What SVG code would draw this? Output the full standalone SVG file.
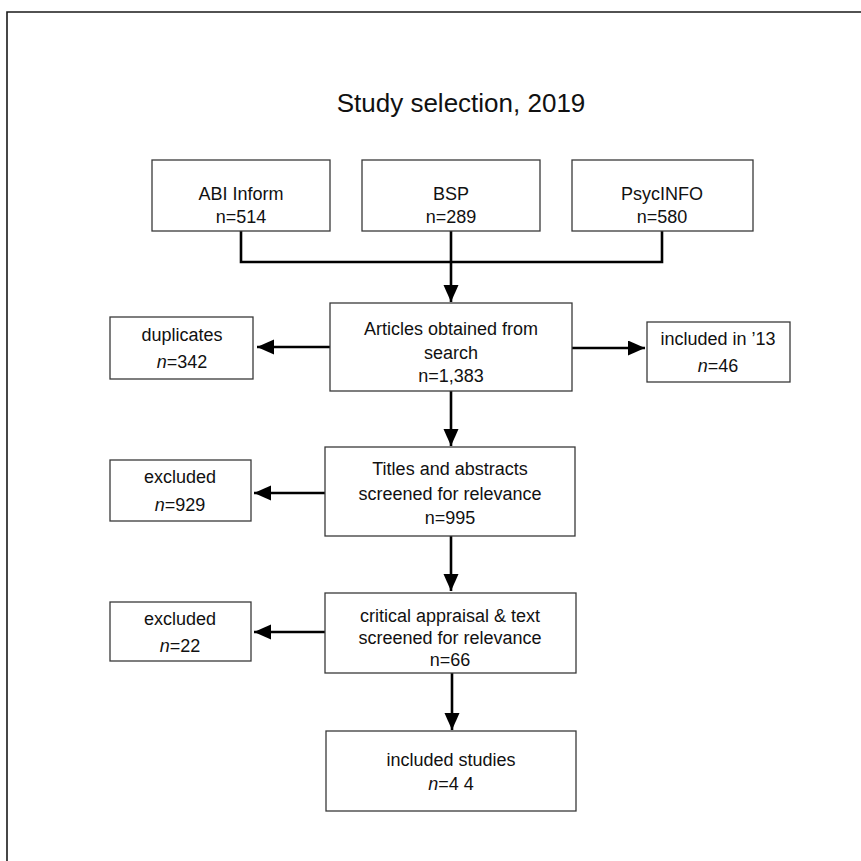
<svg xmlns="http://www.w3.org/2000/svg" width="861" height="861" viewBox="0 0 861 861">
<style>
.box{fill:#fff;stroke:#3a3a3a;stroke-width:1.3}
.t{font-family:"Liberation Sans",Arial,sans-serif;font-size:18px;fill:#111;text-anchor:middle}
.c{fill:none;stroke:#000;stroke-width:2.6}
.i{font-style:italic}
</style>
<defs>
<marker id="ah" markerUnits="userSpaceOnUse" markerWidth="18" markerHeight="16" refX="17" refY="7.5" orient="auto">
<path d="M0,0 L17,7.5 L0,15 z" fill="#000"/>
</marker>
</defs>
<rect width="861" height="861" fill="#fff"/>
<path d="M7,861 V12 H861" fill="none" stroke="#1a1a1a" stroke-width="1.6"/>
<text class="t" x="461" y="112" style="font-size:26px">Study selection, 2019</text>

<g id="connectors">
<path class="c" d="M241,231 V262 H662 V231" stroke-width="2"/>
<path class="c" d="M451,231 V302" marker-end="url(#ah)"/>
<path class="c" d="M330,347 H257" marker-end="url(#ah)"/>
<path class="c" d="M572,348 H645" marker-end="url(#ah)"/>
<path class="c" d="M451,391 V446" marker-end="url(#ah)"/>
<path class="c" d="M325,493 H254" marker-end="url(#ah)"/>
<path class="c" d="M451,536 V591" marker-end="url(#ah)"/>
<path class="c" d="M325,632 H254" marker-end="url(#ah)"/>
<path class="c" d="M452,673 V730" marker-end="url(#ah)"/>
</g>

<g id="abi">
<rect class="box" x="152" y="160" width="178" height="71"/>
<text class="t" x="241" y="200">ABI Inform</text>
<text class="t" x="241" y="223">n=514</text>
</g>
<g id="bsp">
<rect class="box" x="362" y="160" width="178" height="71"/>
<text class="t" x="451" y="200">BSP</text>
<text class="t" x="451" y="223">n=289</text>
</g>
<g id="psycinfo">
<rect class="box" x="572" y="160" width="181" height="71"/>
<text class="t" x="662" y="200">PsycINFO</text>
<text class="t" x="662" y="223">n=580</text>
</g>
<g id="articles">
<rect class="box" x="330" y="303" width="242" height="88"/>
<text class="t" x="451" y="335">Articles obtained from</text>
<text class="t" x="451" y="359">search</text>
<text class="t" x="451" y="382">n=1,383</text>
</g>
<g id="duplicates">
<rect class="box" x="110" y="317" width="143" height="62"/>
<text class="t" x="182" y="341">duplicates</text>
<text class="t" x="182" y="368"><tspan class="i">n</tspan>=342</text>
</g>
<g id="included13">
<rect class="box" x="647" y="322" width="143" height="60"/>
<text class="t" x="718" y="345">included in ’13</text>
<text class="t" x="718" y="372"><tspan class="i">n</tspan>=46</text>
</g>
<g id="titles">
<rect class="box" x="325" y="447" width="250" height="89"/>
<text class="t" x="450" y="475">Titles and abstracts</text>
<text class="t" x="450" y="500">screened for relevance</text>
<text class="t" x="450" y="524">n=995</text>
</g>
<g id="excluded929">
<rect class="box" x="110" y="460" width="141" height="61"/>
<text class="t" x="180" y="483">excluded</text>
<text class="t" x="180" y="511"><tspan class="i">n</tspan>=929</text>
</g>
<g id="critical">
<rect class="box" x="325" y="593" width="251" height="80"/>
<text class="t" x="450" y="622">critical appraisal &amp; text</text>
<text class="t" x="450" y="644">screened for relevance</text>
<text class="t" x="450" y="666">n=66</text>
</g>
<g id="excluded22">
<rect class="box" x="110" y="602" width="141" height="59"/>
<text class="t" x="180" y="625">excluded</text>
<text class="t" x="180" y="652"><tspan class="i">n</tspan>=22</text>
</g>
<g id="included">
<rect class="box" x="326" y="731" width="250" height="80"/>
<text class="t" x="451" y="766">included studies</text>
<text class="t" x="451" y="790"><tspan class="i">n</tspan>=4 4</text>
</g>
</svg>
